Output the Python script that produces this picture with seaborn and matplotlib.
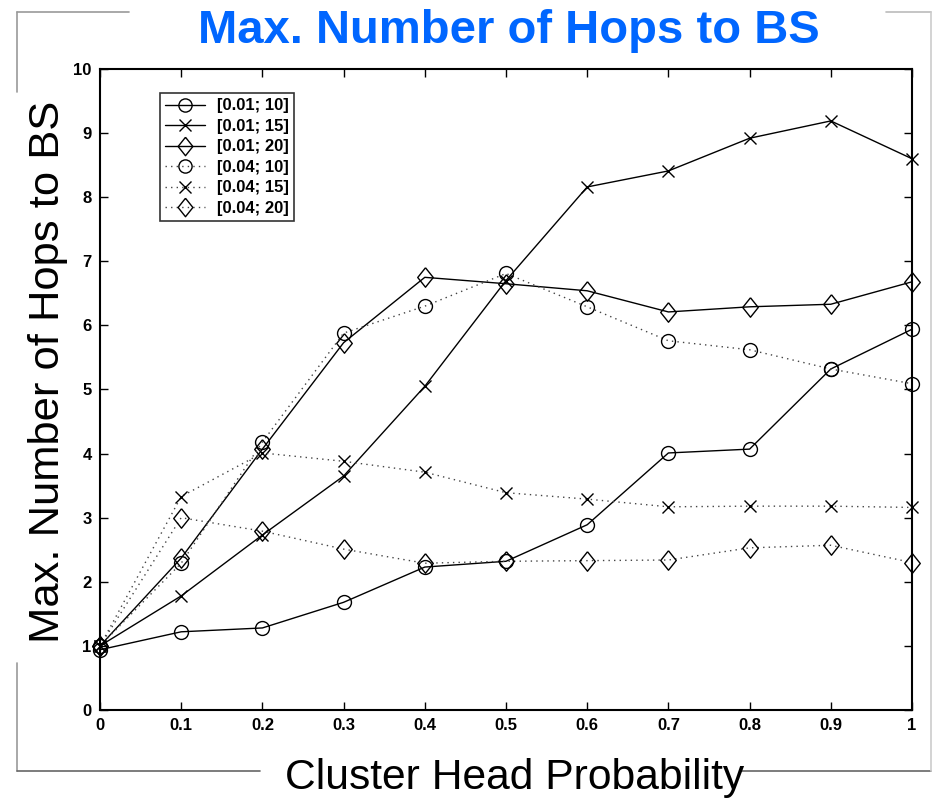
import seaborn as sns
import matplotlib.pyplot as plt
import pandas as pd
from matplotlib.lines import Line2D

# cluster head probability
prob = [0.0, 0.1, 0.2, 0.3, 0.4, 0.5, 0.6, 0.7, 0.8, 0.9, 1.0]

# max number of hops to BS, one list per [p_min; range] setting
hops_001_10 = [0.94, 1.22, 1.28, 1.68, 2.23, 2.32, 2.89, 4.01, 4.07, 5.32, 5.94]
hops_001_15 = [1.0, 1.78, 2.73, 3.65, 5.05, 6.70, 8.16, 8.41, 8.92, 9.19, 8.60]
hops_001_20 = [1.0, 2.37, 4.07, 5.73, 6.75, 6.65, 6.54, 6.21, 6.29, 6.33, 6.68]
hops_004_10 = [1.0, 2.29, 4.18, 5.88, 6.30, 6.81, 6.29, 5.76, 5.62, 5.32, 5.09]
hops_004_15 = [1.0, 3.33, 4.01, 3.88, 3.71, 3.39, 3.29, 3.17, 3.18, 3.18, 3.16]
hops_004_20 = [1.0, 3.00, 2.79, 2.51, 2.29, 2.32, 2.33, 2.34, 2.53, 2.57, 2.30]

labels = ["[0.01; 10]", "[0.01; 15]", "[0.01; 20]",
          "[0.04; 10]", "[0.04; 15]", "[0.04; 20]"]
series = [hops_001_10, hops_001_15, hops_001_20,
          hops_004_10, hops_004_15, hops_004_20]

df = pd.concat([pd.DataFrame({"p": prob, "hops": s, "setting": l})
                for l, s in zip(labels, series)], ignore_index=True)

sns.set_style("ticks")
plt.rcParams["font.family"] = ["Liberation Sans", "DejaVu Sans"]
plt.rcParams["text.color"] = "black"

fig = plt.figure(figsize=(9.33, 8), dpi=100)
ax = fig.add_axes([100/933, 1 - 710/800, 812/933, 641/800])

# matlab-like diamond: a bit wider than matplotlib's thin one
diamond = [(0, 1.25), (1, 0), (0, -1.25), (-1, 0), (0, 1.25)]
markers = ["o", "x", diamond, "o", "x", diamond]
msizes = [10, 9, 14, 10, 9, 14]
dotted = (0, (1, 3))
handles = []
for i, lab in enumerate(labels):
    ls = "-" if i < 3 else dotted
    col = "black" if i < 3 else "#444444"
    sub = df[df["setting"] == lab]
    sns.lineplot(data=sub, x="p", y="hops", ax=ax, color=col, linewidth=1.0,
                 linestyle=ls, marker=markers[i], markersize=msizes[i],
                 markerfacecolor="none", markeredgecolor="black",
                 markeredgewidth=1.0, legend=False, clip_on=False)
    handles.append(Line2D([0], [0], color=col, linestyle=ls, linewidth=1.0,
                          marker=markers[i], markersize=msizes[i] * 0.95,
                          markerfacecolor="none", markeredgecolor="black",
                          label=lab))

ax.set_xlim(0, 1)
ax.set_ylim(0, 10)
ax.set_xticks(prob)
ax.set_xticklabels(["0", "0.1", "0.2", "0.3", "0.4", "0.5", "0.6", "0.7", "0.8", "0.9", "1"])
ax.set_yticks(range(0, 11))
ax.tick_params(direction="in", length=6, width=1, top=True, right=True,
               labelsize=12, pad=6, colors="black")
for t in ax.get_xticklabels() + ax.get_yticklabels():
    t.set_fontweight("bold")
for s in ax.spines.values():
    s.set_visible(True)
    s.set_linewidth(1.5)
    s.set_color("black")
ax.set_xlabel("")
ax.set_ylabel("")

leg = ax.legend(handles=handles, loc="upper left", bbox_to_anchor=(0.074, 0.962),
                fontsize=12, frameon=True, fancybox=False, edgecolor="black",
                handlelength=2.4, handletextpad=0.7, borderpad=0.3,
                labelspacing=0.33, borderaxespad=0)
leg.get_frame().set_linewidth(1.2)
for t in leg.get_texts():
    t.set_fontweight("bold")
    t.set_color("black")

fig.text(0.545, 1 - 43/800, "Max. Number of Hops to BS", ha="center", va="baseline",
         fontsize=34, fontweight="bold", color="#0066FF")
fig.text(0.552, 1 - 789/800, "Cluster Head Probability", ha="center", va="baseline",
         fontsize=30.7, color="black")
fig.text(48/933, 1 - 372/800, "Max. Number of Hops to BS", ha="center", va="center",
         rotation=90, fontsize=31.3, color="black")

# outer slide frame
gray = "#999999"
frame = [([17, 129], [12, 12], gray), ([886, 931], [12, 12], "#bbbbbb"),
         ([17, 17], [12, 92], gray), ([17, 17], [663, 771], gray),
         ([17, 260], [771, 771], "#666666"), ([740, 931], [771, 771], "#666666"),
         ([931, 931], [12, 771], "#cccccc")]
for xs, ys, c in frame:
    fig.add_artist(Line2D([x / 933 for x in xs], [1 - y / 800 for y in ys],
                          color=c, linewidth=1.2))

fig.savefig("out.png", dpi=100)
